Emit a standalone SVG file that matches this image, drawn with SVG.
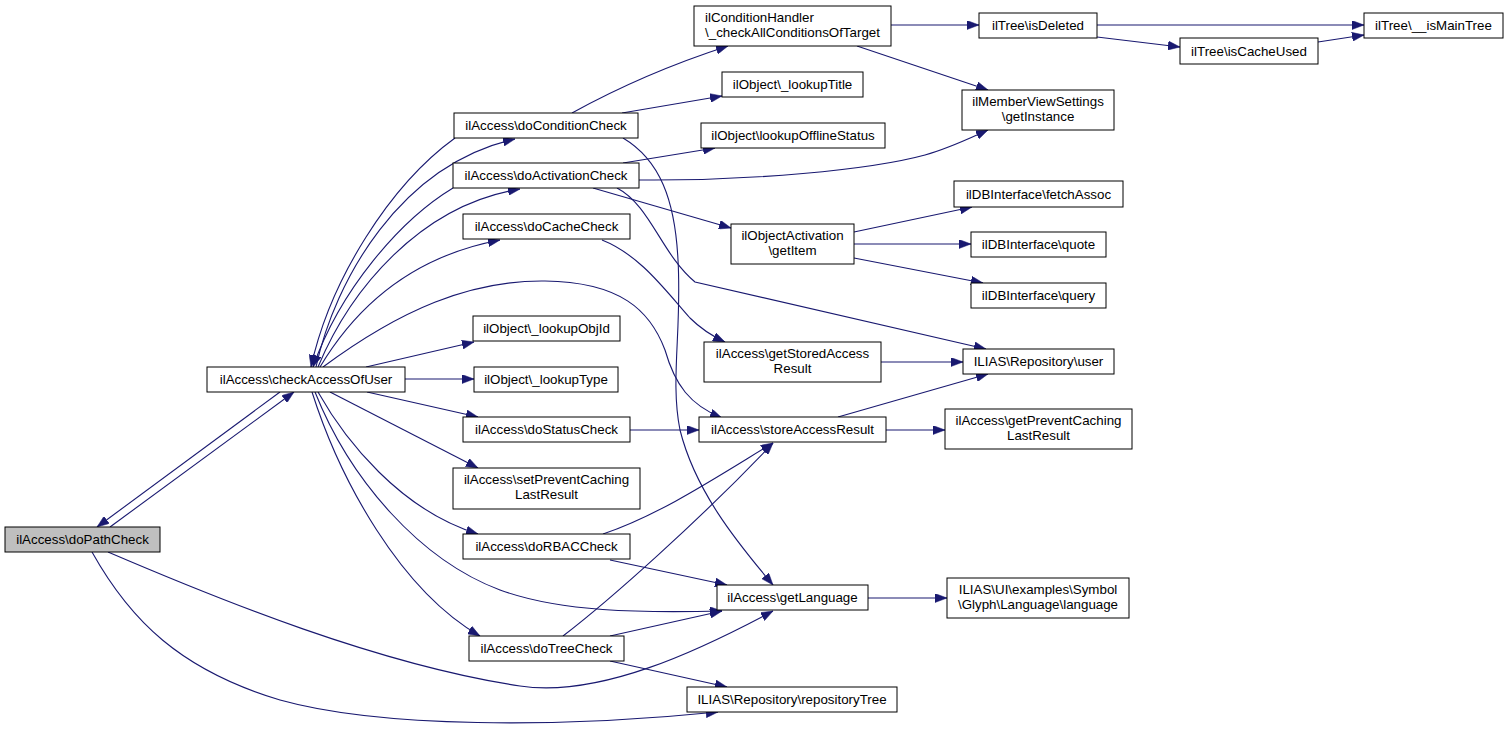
<svg xmlns="http://www.w3.org/2000/svg" width="1507" height="733" viewBox="0 0 1507 733">
<style>
.n rect{fill:#fff;stroke:#000;stroke-width:1}
.n.g rect{fill:#bfbfbf}
.n text{font-family:"Liberation Sans",Arial,Helvetica,sans-serif;font-size:13.33px;fill:#000;text-anchor:middle}
.e path{fill:none;stroke:#191970;stroke-width:1.1;marker-end:url(#ah)}
</style>
<defs>
<marker id="ah" markerUnits="userSpaceOnUse" markerWidth="12" markerHeight="9" refX="12" refY="4.5" orient="auto">
<path d="M0,0 L12,4.5 L0,9 z" fill="#191970" stroke="#191970" stroke-width="0.5"/>
</marker>
</defs>
<rect width="1507" height="733" fill="#fff"/>
<g class="e" id="connectors">
<path d="M280,392 L97,527"/>
<path d="M110,527 L294,392"/>
<path d="M455,138 C390,185 330,280 311,367"/>
<path d="M316,367 C335,280 400,165 515,139"/>
<path d="M453,188 C400,220 340,290 313,367"/>
<path d="M318,367 C350,290 420,205 520,189"/>
<path d="M320,367 C360,300 420,255 500,240"/>
<path d="M323,367 C400,310 470,280 545,281 C620,282 650,310 665,350 C675,385 690,405 722,418"/>
<path d="M366,367 L474,342"/>
<path d="M405,379 L474,379"/>
<path d="M367,392 L478,417"/>
<path d="M330,392 L478,468"/>
<path d="M318,392 C345,440 400,510 478,534"/>
<path d="M315,392 C350,480 420,560 500,590 C560,612 640,613 722,611"/>
<path d="M312,392 C340,480 400,590 480,636"/>
<path d="M108,552 C220,600 380,665 520,686 C600,698 700,650 773,611"/>
<path d="M92,552 C130,620 180,670 280,700 C380,728 560,728 718,712"/>
<path d="M623,138 C660,160 675,200 678,260 C682,330 670,380 680,430 C695,490 735,540 773,585"/>
<path d="M572,113 C610,92 660,68 728,46"/>
<path d="M622,113 L722,96"/>
<path d="M623,163 L715,148"/>
<path d="M639,180 C750,181 870,170 925,155 C950,148 970,138 988,130"/>
<path d="M593,188 L731,228"/>
<path d="M617,188 C650,205 662,255 695,282 L986,349"/>
<path d="M602,240 C640,255 665,290 690,318 C700,328 710,335 725,342"/>
<path d="M630,430 L699,430"/>
<path d="M603,534 C660,515 720,475 773,443"/>
<path d="M610,560 L727,585"/>
<path d="M563,636 C610,600 700,520 773,443"/>
<path d="M610,636 L722,611"/>
<path d="M610,661 L727,687"/>
<path d="M838,417 L988,374"/>
<path d="M886,430 L945,430"/>
<path d="M881,362 L963,362"/>
<path d="M868,598 L947,598"/>
<path d="M854,232 L972,207"/>
<path d="M854,244 L971,244"/>
<path d="M854,258 L983,283"/>
<path d="M891,25 L979,25"/>
<path d="M857,46 L988,90"/>
<path d="M1097,25 L1364,25"/>
<path d="M1097,37 L1180,47"/>
<path d="M1318,42 L1364,35"/>
</g>
<g class="n g" id="doPathCheck"><rect x="5" y="527" width="155" height="25"/><text x="82.5" y="544">ilAccess\doPathCheck</text></g>
<g class="n" id="checkAccessOfUser"><rect x="207" y="367" width="198" height="25"/><text x="306" y="384">ilAccess\checkAccessOfUser</text></g>
<g class="n" id="doConditionCheck"><rect x="454" y="113" width="184" height="25"/><text x="546" y="130">ilAccess\doConditionCheck</text></g>
<g class="n" id="doActivationCheck"><rect x="453" y="163" width="186" height="25"/><text x="546" y="180">ilAccess\doActivationCheck</text></g>
<g class="n" id="doCacheCheck"><rect x="463" y="214" width="167" height="25"/><text x="546.5" y="231">ilAccess\doCacheCheck</text></g>
<g class="n" id="lookupObjId"><rect x="473" y="316" width="147" height="25"/><text x="546.5" y="333">ilObject\_lookupObjId</text></g>
<g class="n" id="lookupType"><rect x="474" y="367" width="144" height="25"/><text x="546" y="384">ilObject\_lookupType</text></g>
<g class="n" id="doStatusCheck"><rect x="463" y="417" width="167" height="25"/><text x="546.5" y="434">ilAccess\doStatusCheck</text></g>
<g class="n" id="setPreventCachingLastResult"><rect x="453" y="468" width="187" height="41"/><text x="546.5" y="484">ilAccess\setPreventCaching</text><text x="546.5" y="499">LastResult</text></g>
<g class="n" id="doRBACCheck"><rect x="463" y="534" width="167" height="25"/><text x="546.5" y="551">ilAccess\doRBACCheck</text></g>
<g class="n" id="doTreeCheck"><rect x="469" y="636" width="155" height="25"/><text x="546.5" y="653">ilAccess\doTreeCheck</text></g>
<g class="n" id="storeAccessResult"><rect x="699" y="417" width="187" height="25"/><text x="792.5" y="434">ilAccess\storeAccessResult</text></g>
<g class="n" id="getLanguage"><rect x="717" y="585" width="151" height="25"/><text x="792.5" y="602">ilAccess\getLanguage</text></g>
<g class="n" id="repositoryTree"><rect x="687" y="687" width="210" height="25"/><text x="792" y="704">ILIAS\Repository\repositoryTree</text></g>
<g class="n" id="getStoredAccessResult"><rect x="704" y="342" width="177" height="40"/><text x="792.5" y="358">ilAccess\getStoredAccess</text><text x="792.5" y="373">Result</text></g>
<g class="n" id="getItem"><rect x="731" y="224" width="123" height="40"/><text x="792.5" y="240">ilObjectActivation</text><text x="792.5" y="255">\getItem</text></g>
<g class="n" id="checkAllConditionsOfTarget"><rect x="694" y="6" width="197" height="40"/><text x="705" y="22" style="text-anchor:start">ilConditionHandler</text><text x="792.5" y="37">\_checkAllConditionsOfTarget</text></g>
<g class="n" id="lookupTitle"><rect x="722" y="72" width="141" height="25"/><text x="792.5" y="89">ilObject\_lookupTitle</text></g>
<g class="n" id="lookupOfflineStatus"><rect x="701" y="123" width="184" height="25"/><text x="793" y="140">ilObject\lookupOfflineStatus</text></g>
<g class="n" id="isDeleted"><rect x="979" y="13" width="118" height="25"/><text x="1038" y="30">ilTree\isDeleted</text></g>
<g class="n" id="isCacheUsed"><rect x="1180" y="38" width="138" height="26"/><text x="1249" y="55.5">ilTree\isCacheUsed</text></g>
<g class="n" id="isMainTree"><rect x="1364" y="13" width="139" height="25"/><text x="1433.5" y="30">ilTree\__isMainTree</text></g>
<g class="n" id="getInstance"><rect x="962" y="90" width="152" height="40"/><text x="1038" y="106">ilMemberViewSettings</text><text x="1038" y="121">\getInstance</text></g>
<g class="n" id="fetchAssoc"><rect x="954" y="181" width="169" height="26"/><text x="1038.5" y="198.5">ilDBInterface\fetchAssoc</text></g>
<g class="n" id="quote"><rect x="971" y="232" width="135" height="25"/><text x="1038.5" y="249">ilDBInterface\quote</text></g>
<g class="n" id="query"><rect x="971" y="283" width="135" height="25"/><text x="1038.5" y="300">ilDBInterface\query</text></g>
<g class="n" id="user"><rect x="963" y="349" width="151" height="25"/><text x="1038.5" y="366">ILIAS\Repository\user</text></g>
<g class="n" id="getPreventCachingLastResult"><rect x="945" y="409" width="187" height="40"/><text x="1038.5" y="425">ilAccess\getPreventCaching</text><text x="1038.5" y="440">LastResult</text></g>
<g class="n" id="language"><rect x="947" y="578" width="182" height="40"/><text x="1038" y="594">ILIAS\UI\examples\Symbol</text><text x="1038" y="609">\Glyph\Language\language</text></g>
</svg>
